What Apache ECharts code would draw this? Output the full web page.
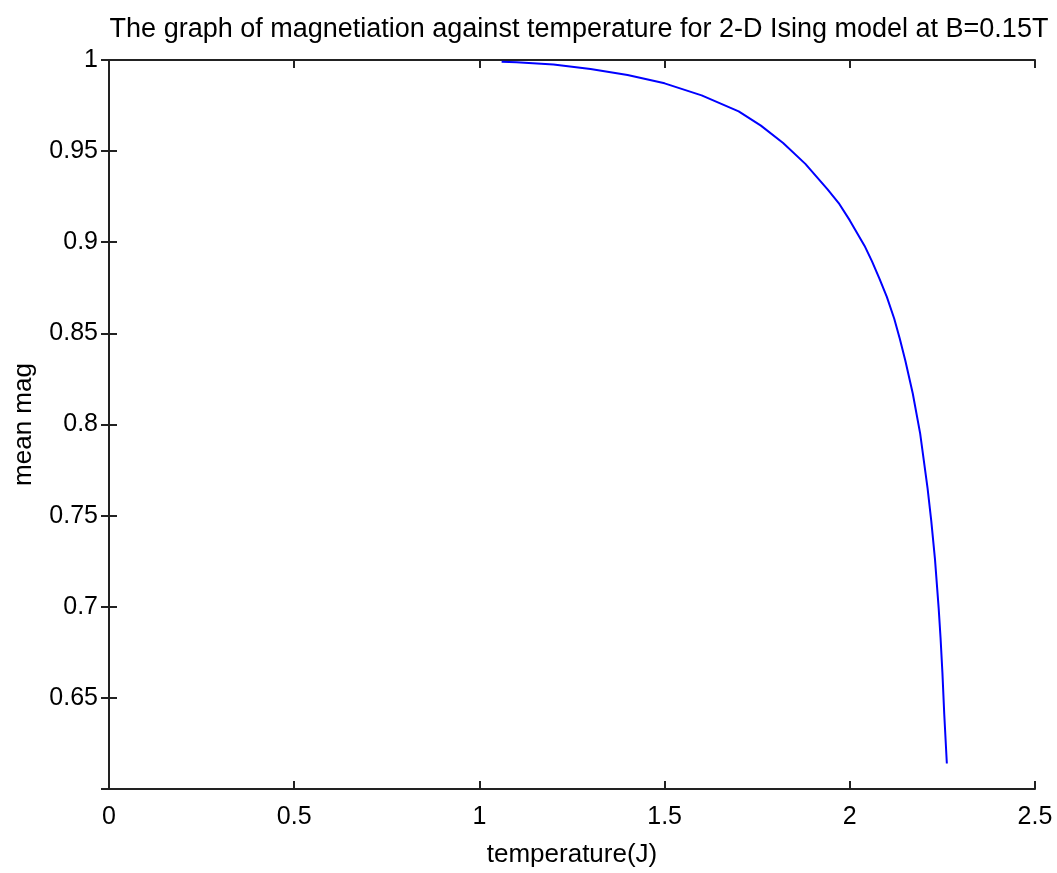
<!DOCTYPE html>
<html>
<head>
<meta charset="utf-8">
<script src="https://cdn.jsdelivr.net/npm/echarts@6/dist/echarts.min.js"></script>
<style>
  html, body { margin: 0; padding: 0; background: #fff; }
  #chart { width: 1057px; height: 873px; }
</style>
</head>
<body>
<div id="chart"></div>
<script>
// temperature (J) and mean magnetisation
var temperature = [1.06, 1.1, 1.2, 1.3, 1.4, 1.5, 1.6, 1.7, 1.76, 1.82, 1.88, 1.94, 1.97, 2.0, 2.04,
    2.06, 2.08, 2.1, 2.12, 2.135, 2.15, 2.17, 2.19, 2.21, 2.22, 2.23, 2.24, 2.245, 2.25, 2.255, 2.262];
var meanMag = [0.9991, 0.9987, 0.9975, 0.9950, 0.9918, 0.9872, 0.9806, 0.9718, 0.9640, 0.9545,
    0.9430, 0.9290, 0.9215, 0.9120, 0.8980, 0.8895, 0.8800, 0.8700, 0.8580, 0.8470, 0.8350,
    0.8170, 0.7950, 0.7650, 0.7470, 0.7260, 0.6990, 0.6830, 0.6640, 0.6410, 0.6140];
var xTicks = [0, 0.5, 1, 1.5, 2, 2.5];
var yTicks = [0.65, 0.7, 0.75, 0.8, 0.85, 0.9, 0.95, 1];

function renderChart() {
    var dom = document.getElementById("chart");
    var myChart = echarts.init(dom);
    var font = "'Liberation Sans', Arial, sans-serif";
    var fs = 25;

    var points = [];
    for (var i = 0; i < temperature.length; i++) {
        points.push([temperature[i], meanMag[i]]);
    }

    var lineStyle = { color: '#222', width: 2 };
    var tick = { show: true, inside: true, length: 8, lineStyle: { color: '#222', width: 2 } };

    var option = {
        animation: false,
        backgroundColor: '#fff',
        title: {
            text: 'The graph of magnetiation against temperature for 2-D Ising model at B=0.15T',
            left: 574,
            top: 11,
            textAlign: 'center',
            textStyle: { fontFamily: font, fontSize: 27, fontWeight: 'normal', color: '#000' }
        },
        grid: { left: 109, top: 60, right: 22, bottom: 83 },
        xAxis: [{
            type: 'value',
            min: xTicks[0],
            max: xTicks[xTicks.length - 1],
            interval: 0.5,
            name: 'temperature(J)',
            nameLocation: 'middle',
            nameGap: 53,
            nameTextStyle: { fontFamily: font, fontSize: 26, color: '#000' },
            axisLine: { show: true, lineStyle: lineStyle },
            axisTick: tick,
            axisLabel: { fontFamily: font, fontSize: fs, color: '#000', margin: 16 },
            splitLine: { show: false }
        }, {
            type: 'value',
            position: 'top',
            min: xTicks[0],
            max: xTicks[xTicks.length - 1],
            interval: 0.5,
            axisLine: { show: true, lineStyle: lineStyle },
            axisTick: tick,
            axisLabel: { show: false },
            splitLine: { show: false }
        }],
        yAxis: [{
            type: 'value',
            min: 0.6,
            max: yTicks[yTicks.length - 1],
            interval: 0.05,
            name: 'mean mag',
            nameLocation: 'middle',
            nameGap: 72,
            nameTextStyle: { fontFamily: font, fontSize: 26, color: '#000' },
            axisLine: { show: true, lineStyle: lineStyle },
            axisTick: tick,
            axisLabel: {
                fontFamily: font, fontSize: fs, color: '#000', margin: 11,
                formatter: function (v) {
                    var r = Math.round(v * 100) / 100;
                    return yTicks.indexOf(r) >= 0 ? String(r) : '';
                }
            },
            splitLine: { show: false }
        }, {
            type: 'value',
            position: 'right',
            min: 0.6,
            max: yTicks[yTicks.length - 1],
            interval: 0.05,
            axisLine: { show: true, lineStyle: lineStyle },
            axisTick: tick,
            axisLabel: { show: false },
            splitLine: { show: false }
        }],
        series: [{
            type: 'line',
            data: points,
            showSymbol: false,
            lineStyle: { color: '#0000ff', width: 2 },
            itemStyle: { color: '#0000ff' }
        }]
    };

    myChart.setOption(option);
}
renderChart();
</script>
</body>
</html>
